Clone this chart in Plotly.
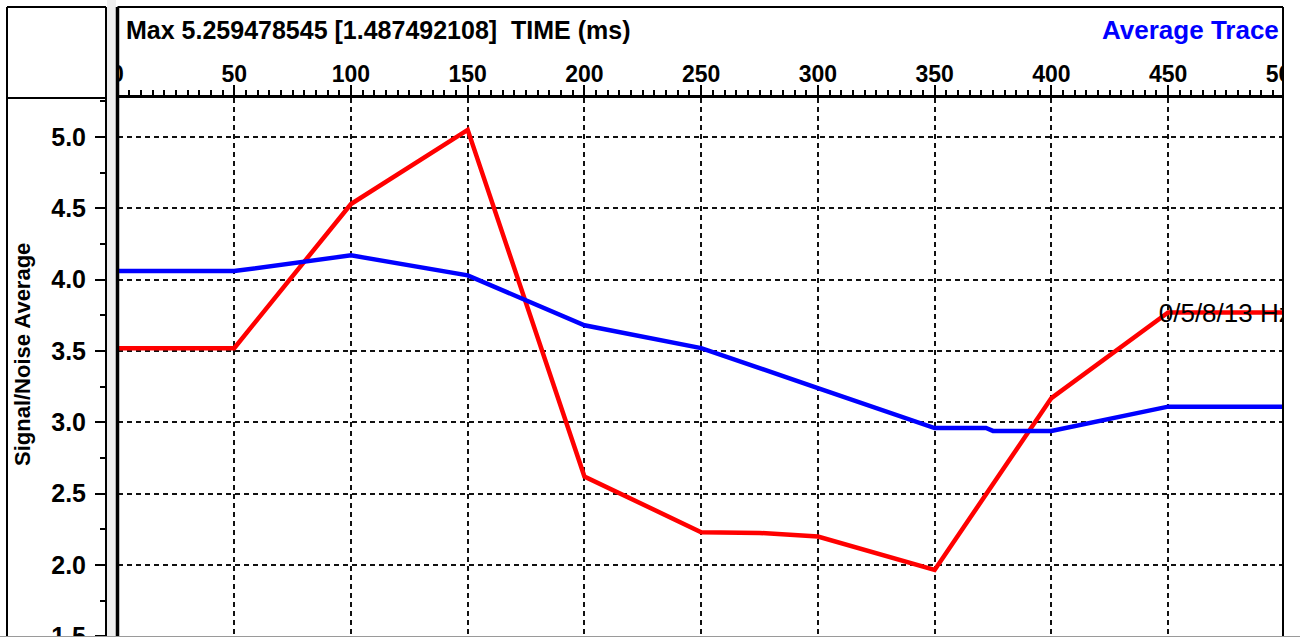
import plotly.graph_objects as go

# ---- data -------------------------------------------------------------
time_red = [0, 50, 100, 150, 200, 250, 275, 300, 350, 400, 450, 500]
snr_red = [3.52, 3.52, 4.53, 5.05, 2.62, 2.23, 2.225, 2.20, 1.965, 3.17, 3.77, 3.77]

time_blue = [0, 50, 100, 150, 200, 250, 300, 350, 372, 375, 400, 450, 500]
snr_blue = [4.06, 4.06, 4.17, 4.03, 3.68, 3.52, 3.24, 2.96, 2.96, 2.94, 2.94, 3.11, 3.11]

band_label = "0/5/8/13 Hz"
band_pos = (446, 3.75)

header_left = "Max 5.259478545 [1.487492108]\u00a0\u00a0TIME (ms)"
header_right = "Average Trace"
y_title = "Signal/Noise Average"

x_range = [0, 500.5]
y_range = [1.4955, 5.273]

# ---- page geometry (pixels) --------------------------------------------
W, H = 1300, 637
L, R, T, B = 106, 14, 98, 0
PW, PH = W - L - R, H - T - B


def fx(p):
    """pixel column -> paper x"""
    return (p - L) / PW


def fy(p):
    """pixel row -> paper y"""
    return (H - B - p) / PH


FAMILY = "Liberation Sans, Arial, sans-serif"
BOLD = dict(family=FAMILY, color="black", weight="bold")

fig = go.Figure()

fig.add_trace(go.Scatter(
    x=time_red, y=snr_red, mode="lines",
    line=dict(color="#ff0000", width=4.5), hoverinfo="skip", showlegend=False,
))
fig.add_trace(go.Scatter(
    x=time_blue, y=snr_blue, mode="lines",
    line=dict(color="#0000ff", width=4.5), hoverinfo="skip", showlegend=False,
))
fig.add_trace(go.Scatter(
    x=[band_pos[0]], y=[band_pos[1]], mode="text", text=[band_label],
    textposition="middle right", cliponaxis=True,
    textfont=dict(family=FAMILY, size=26, color="black"),
    hoverinfo="skip", showlegend=False,
))

grid = dict(showgrid=True, gridcolor="#111111", gridwidth=2, griddash="5px,4px")

fig.update_layout(
    width=W, height=H,
    margin=dict(l=L, r=R, t=T, b=B, pad=0, autoexpand=False),
    paper_bgcolor="white", plot_bgcolor="white",
    xaxis=dict(
        domain=[fx(117.5), 1], range=x_range, side="top", automargin=False,
        tick0=0, dtick=50, ticks="outside", ticklen=10, tickwidth=2, tickcolor="black",
        minor=dict(dtick=5, tick0=0, ticks="outside", ticklen=5, tickwidth=1.5,
                   tickcolor="black", showgrid=False),
        showline=True, linecolor="black", linewidth=3, zeroline=False,
        tickfont=dict(BOLD, size=23), ticklabelstandoff=-6, ticklabeloverflow="allow",
        **grid,
    ),
    yaxis=dict(
        anchor="free", position=0, range=y_range, automargin=False,
        tick0=0, dtick=0.5, tickformat=".1f",
        ticks="outside", ticklen=10, tickwidth=2, tickcolor="black",
        minor=dict(dtick=0.25, tick0=0, ticks="outside", ticklen=5, tickwidth=1.5,
                   tickcolor="black", showgrid=False),
        showline=True, linecolor="black", linewidth=2, zeroline=False,
        tickfont=dict(BOLD, size=25), ticklabelstandoff=4, ticklabeloverflow="allow",
        **grid,
    ),
)

shapes = []


def line(x0, y0, x1, y1, color="black", width=2):
    shapes.append(dict(type="line", xref="paper", yref="paper",
                       x0=fx(x0), y0=fy(y0), x1=fx(x1), y1=fy(y1),
                       line=dict(color=color, width=width), layer="above"))


def rect(x0, y0, x1, y1, fill):
    shapes.append(dict(type="rect", xref="paper", yref="paper",
                       x0=fx(x0), y0=fy(y0), x1=fx(x1), y1=fy(y1),
                       fillcolor=fill, line=dict(width=0), layer="above"))


# grey gutter between the label panel and the chart frame
rect(107, 0, 116, H, "#efefef")
# white margin beyond the right frame edge
rect(1284, 0, W, H, "white")
# label panel box
line(7, 7, 106, 7)
line(7, 7, 7, H)
line(106, 7, 106, H)
line(7, 98, 106, 98)
# chart frame
line(117.5, 7, 117.5, H, width=3.5)
line(117.5, 7, 1283, 7)
line(1283, 7, 1283, H)
line(0, 636.5, W, 636.5, color="#9a9a9a", width=1)

fig.update_layout(shapes=shapes)

fig.add_annotation(xref="paper", yref="paper", x=fx(124), y=fy(30),
                   xanchor="left", yanchor="middle", showarrow=False,
                   text=header_left, font=dict(BOLD, size=25))
fig.add_annotation(xref="paper", yref="paper", x=fx(1281), y=fy(30),
                   xanchor="right", yanchor="middle", showarrow=False,
                   text=header_right, font=dict(BOLD, size=26, color="#0000ff"))
fig.add_annotation(xref="paper", yref="paper", x=fx(22), y=fy(355),
                   xanchor="center", yanchor="middle", showarrow=False, textangle=-90,
                   text=y_title, font=dict(BOLD, size=22))

fig.write_html("out.html")
